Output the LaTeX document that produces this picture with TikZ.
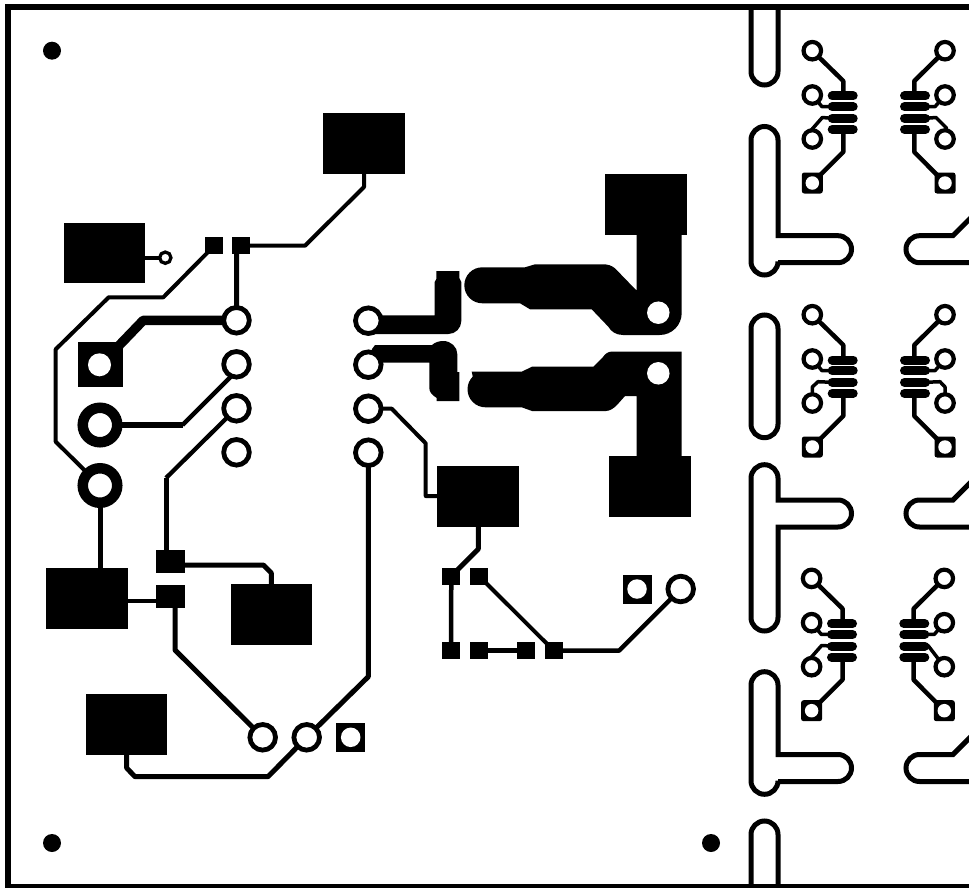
\documentclass[tikz,border=0pt]{standalone}
\pgfdeclarelayer{traces}
\pgfsetlayers{traces,main}
\tikzset{
  rectpad/.style 2 args={rectangle,fill=black,draw=none,inner sep=0pt,outer sep=0pt,minimum width=#1 pt,minimum height=#2 pt},
  ringpad/.style={circle,draw=black,fill=white,line width=4.8pt,inner sep=0pt,minimum size=25.6pt},
  bigring/.style={circle,draw=black,fill=white,line width=10.5pt,inner sep=0pt,minimum size=34.5pt},
  hole/.style={circle,fill=white,draw=none,inner sep=0pt,minimum size=#1 pt},
  dot/.style={circle,fill=black,draw=none,inner sep=0pt,minimum size=18pt},
  fpring/.style={circle,draw=black,fill=white,line width=4.2pt,inner sep=0pt,minimum size=17.5pt},
  fpsq/.style={rectangle,fill=black,draw=none,rounded corners=2.5pt,inner sep=0pt,minimum size=21pt},
  finger/.style={line width=9pt,line cap=round,draw=black},
  trk/.style={draw=black,line width=#1 pt,line join=round},
  trk/.default=5,
  slot/.style={draw=black,line width=5pt,line join=miter},
  copper/.style={fill=black,draw=none}
}
\newcommand{\footprint}[3]{%
\begin{scope}[shift={(#1,#2)}]
  \node[fpring] (#3a) at (812.3,50.7) {};
  \node[fpring] (#3b) at (812.3,95) {};
  \node[fpring] (#3c) at (812.3,139) {};
  \node[fpsq]   (#3d) at (812.3,183) {};
  \node[hole=13.5] (#3dh) at (#3d.center) {};
  \node[fpring] (#3e) at (945,50.7) {};
  \node[fpring] (#3f) at (945,95) {};
  \node[fpring] (#3g) at (945,139) {};
  \node[fpsq]   (#3h) at (945,183) {};
  \node[hole=13.5] (#3hh) at (#3h.center) {};
  \coordinate (#3L1) at (843.3,96);
  \coordinate (#3L2) at (832,106.7);
  \coordinate (#3L3) at (832,118.3);
  \coordinate (#3L4) at (843.3,129.3);
  \coordinate (#3R1) at (914.3,96);
  \coordinate (#3R2) at (925.5,106.7);
  \coordinate (#3R3) at (925.5,118.3);
  \coordinate (#3R4) at (914.3,129.3);
  \begin{pgfonlayer}{traces}
    \foreach \yy in {96,106.7,118.3,129.3} {
      \draw[finger] (832.2,\yy) -- (853.2,\yy);
      \draw[finger] (904.5,\yy) -- (925.5,\yy);
    }
    \draw[trk=4.5] (#3a.center) -- (843.3,81) -- (#3L1);
    \draw[trk=4.5] (#3d.center) -- (843.3,152) -- (#3L4);
    \draw[trk=4.5] (#3e.center) -- (914.3,81) -- (#3R1);
    \draw[trk=4.5] (#3h.center) -- (914.3,152) -- (#3R4);
    \draw[trk=3.5] (#3b.center) -- (822,106.7) -- (#3L2);
    \draw[trk=3.5] (#3f.center) -- (935,106.7) -- (#3R2);
  \end{pgfonlayer}
\end{scope}}
\begin{document}
\begin{tikzpicture}[x=1pt,y=-1pt]
\useasboundingbox (0,0) rectangle (969,888);
\clip (0,0) rectangle (969,888);

% board outline
\draw[line width=5.6pt,line join=miter] (7.9,6.8) rectangle (1000,886.5);

% mounting marks
\node[dot] (m1) at (52,50.7) {};
\node[dot] (m2) at (52,843) {};
\node[dot] (m3) at (711,843) {};

% routed slots, left
\draw[slot] (751,7) -- (751,71.5) arc[start angle=180,end angle=360,radius=13.5pt] -- (778,7);
\draw[slot] (778,235.7) -- (778,140) arc[start angle=0,end angle=180,radius=13.5pt]
  -- (751,261.5) arc[start angle=180,end angle=360,radius=13.5pt] -- (778,262.7)
  -- (838,262.7) arc[start angle=270,end angle=450,radius=13.5pt] -- cycle;
\draw[slot] (751,328.5) arc[start angle=180,end angle=0,radius=13.5pt] -- (778,424.2)
  arc[start angle=0,end angle=-180,radius=13.5pt] -- cycle;
\draw[slot] (778,500) -- (778,478.2) arc[start angle=0,end angle=180,radius=13.5pt]
  -- (751,617.5) arc[start angle=180,end angle=360,radius=13.5pt] -- (778,527)
  -- (838,527) arc[start angle=270,end angle=450,radius=13.5pt] -- cycle;
\draw[slot] (778,754.5) -- (778,685.2) arc[start angle=0,end angle=180,radius=13.5pt]
  -- (751,780.8) arc[start angle=180,end angle=360,radius=13.5pt] -- (778,781.5)
  -- (838,781.5) arc[start angle=270,end angle=450,radius=13.5pt] -- cycle;
\draw[slot] (751,886) -- (751,834.5) arc[start angle=180,end angle=0,radius=13.5pt] -- (778,886);

% routed slots, right
\draw[slot] (1000,262.7) -- (919.5,262.7) arc[start angle=270,end angle=90,radius=13.5pt] -- (953,235.7) -- (1000,188.7);
\draw[slot] (1000,527) -- (919.5,527) arc[start angle=270,end angle=90,radius=13.5pt] -- (953,500) -- (1000,453);
\draw[slot] (1000,781.5) -- (919.5,781.5) arc[start angle=270,end angle=90,radius=13.5pt] -- (953,754.5) -- (1000,707.5);

% footprints
\footprint{0}{0}{A}
\footprint{0}{264}{B}
\footprint{-0.7}{527.7}{C}
\begin{pgfonlayer}{traces}
  \draw[trk=3.5] (Ac.center) -- (810.5,131) -- (822.3,117.5) -- (AL3);
  \draw[trk=3.5] (Ag.center) -- (946.5,128) -- (936,117.5) -- (AR3);
  \draw[trk=3.5] (Bc.center) -- (812.3,387) -- (818,381.7) -- (BL3);
  \draw[trk=3.5] (Bg.center) -- (945,387) -- (940,381.7) -- (BR3);
  \draw[trk=3.5] (Cc.center) -- (810,658.7) -- (821.6,645.5) -- (CL3);
  \draw[trk=3.5] (Cg.center) -- (928,645.5) -- (CR3);
\end{pgfonlayer}

% large rectangular pads
\node[rectpad={82}{61}] (P1) at (364,143.5) {};
\node[rectpad={81}{60}] (P2) at (104.5,253) {};
\node[rectpad={82}{61}] (P3) at (645.7,204.5) {};
\node[rectpad={82}{61}] (P4) at (649.7,486.3) {};
\node[rectpad={82}{61}] (P5) at (478.3,496.5) {};
\node[rectpad={82}{61}] (P6) at (87,598) {};
\node[rectpad={81}{61}] (P7) at (271.8,614) {};
\node[rectpad={81}{61}] (P8) at (126.5,724) {};

% small pads
\node[rectpad={18}{17}] (S1) at (214.3,245.7) {};
\node[rectpad={18}{17}] (S2) at (241.3,245.7) {};
\node[rectpad={29}{23}] (M1) at (170.7,561) {};
\node[rectpad={29}{23}] (M2) at (170.7,596) {};
\node[rectpad={18}{17}] (Q1) at (451.3,576) {};
\node[rectpad={18}{17}] (Q2) at (479,576) {};
\node[rectpad={18}{17.5}] (Q3) at (451,650.5) {};
\node[rectpad={18}{17.5}] (Q4) at (478.7,650.5) {};
\node[rectpad={18}{17.5}] (Q5) at (526,650.5) {};
\node[rectpad={18}{17.5}] (Q6) at (553.7,650.5) {};

% header pads
\node[ringpad] (H1) at (236.5,320.3) {};
\node[ringpad] (H2) at (236.5,364.3) {};
\node[ringpad] (H3) at (236.5,408.3) {};
\node[ringpad] (H4) at (236.5,452.3) {};
\node[ringpad] (H5) at (368.3,320.7) {};
\node[ringpad] (H6) at (368.3,364.7) {};
\node[ringpad] (H7) at (368.3,408.7) {};
\node[ringpad] (H8) at (368.3,452.7) {};

% connector pads
\node[rectpad={45}{45}] (J1) at (100.5,364.8) {};
\node[hole=23] (J1h) at (99.5,364.8) {};
\node[bigring] (J2) at (100,425) {};
\node[bigring] (J3) at (100,485.5) {};

% via beside P2
\node[circle,draw=black,fill=white,line width=3.3pt,inner sep=0pt,minimum size=11.3pt] (V1) at (165.3,257.7) {};

% bottom pads
\node[ringpad] (K1) at (262.7,737.3) {};
\node[ringpad] (K2) at (306.7,737.3) {};
\node[rectpad={29}{29}] (K3) at (350.7,737.3) {};
\node[hole=19.5] (K3h) at (K3.center) {};
\node[rectpad={29}{29}] (R1) at (637,589) {};
\node[hole=19.5] (R1h) at (R1.center) {};
\node[ringpad] (R2) at (680.7,589) {};

% holes in the power copper
\node[hole=22.5] (W1) at (658.3,312.7) {};
\node[hole=22.5] (W2) at (658.3,373.3) {};

\begin{pgfonlayer}{traces}
  % power copper
  \fill[copper] (482.3,267.3) -- (525,267.3) -- (535,264.3) -- (603,264.3)
    .. controls (608,264.3) and (611.5,265.5) .. (615,268.3) -- (636,290) -- (636.7,290)
    -- (636.7,235) -- (681.7,235) -- (681.7,313) arc[start angle=0,end angle=-90,radius=22pt]
    -- (623,335) .. controls (616,335) and (611,331.5) .. (608.3,326.7)
    -- (591.7,309.3) -- (530,309.3) -- (520,303.3) -- (482.3,303.3)
    arc[start angle=270,end angle=90,radius=18pt] -- cycle;
  \fill[copper] (471.7,371.7) -- (521.7,371.7) -- (532,366.7) -- (593.3,366.7) -- (603,357)
    .. controls (605,354) and (608,351.7) .. (611,351.7) -- (681.7,351.7) -- (681.7,460)
    -- (636.7,460) -- (636.7,396) -- (625,396) -- (617,405)
    .. controls (614,408) and (610,411) .. (606,411) -- (532,411) -- (521.7,407.3) -- (485.5,407.3)
    arc[start angle=270,end angle=135,radius=18pt] -- cycle;
  % output Ls
  \fill[copper] (H5.center) -- (368,315.3) -- (434.7,315.3) -- (434.7,282) -- (436.3,279) -- (436.3,271)
    -- (459.3,271) -- (459.3,278) -- (461.3,282) -- (461.3,321)
    arc[start angle=0,end angle=-90,radius=13pt] -- (368,334) -- cycle;
  \fill[copper] (H6.center) -- (372,349) -- (375,345) -- (432,345)
    .. controls (435,342) and (440,341) .. (443.3,341)
    .. controls (451,341) and (457.3,347) .. (457.3,354)
    -- (457.3,372) -- (459.3,372) -- (459.3,401) -- (436.7,401) -- (436.7,398)
    .. controls (432,395) and (429.3,392) .. (429.3,388) -- (429.3,362.7) -- (368,362.7) -- cycle;
  % signal traces
  \draw[trk=4] (S1.center) -- (163.3,297.3) -- (108.7,297.3) -- (55.7,349.3) -- (55.7,441.7) -- (J3.center);
  \draw[trk=5] (236.7,245.7) -- (H1.center);
  \draw[trk=4] (S2.center) -- (305,245.7) -- (364,187) -- (P1.center);
  \draw[trk=9.5] (H1.center) -- (143.3,320.3) -- (J1.center);
  \draw[trk=6] (J2.center) -- (182.5,425);
  \draw[trk=4.3] (182.5,425) -- (236.5,371) -- (H2.center);
  \draw[trk=4.3] (H3.center) -- (166,478);
  \draw[trk=5] (166,478) -- (166,561);
  \draw[trk=5] (170.7,565) -- (263.3,565) -- (271.3,573) -- (271.3,590);
  \draw[trk=5] (J3.center) -- (100,575);
  \draw[trk=4.7] (170.7,601) -- (100,601);
  \draw[trk=5] (175,596) -- (175,650) -- (K1.center);
  \draw[trk=5] (126.7,750) -- (126.7,768) -- (135,776.7) -- (268,776.7) -- (K2.center) -- (368.3,676.7) -- (H8.center);
  \draw[trk=4] (H7.center) -- (391.7,408.7) -- (425.7,443.3) -- (425.7,496) -- (445,496);
  \draw[trk=5] (478.3,520) -- (478.3,549) -- (Q1.center);
  \draw[trk=4.5] (Q1.center) -- (Q3.center);
  \draw[trk=4] (Q2.center) -- (Q6.center);
  \draw[trk=5] (Q4.center) -- (Q5.center);
  \draw[trk=4.5] (Q6.center) -- (619.3,650.5) -- (R2.center);
  \draw[trk=4] (120,257.7) -- (V1.center);
\end{pgfonlayer}
\end{tikzpicture}
\end{document}
